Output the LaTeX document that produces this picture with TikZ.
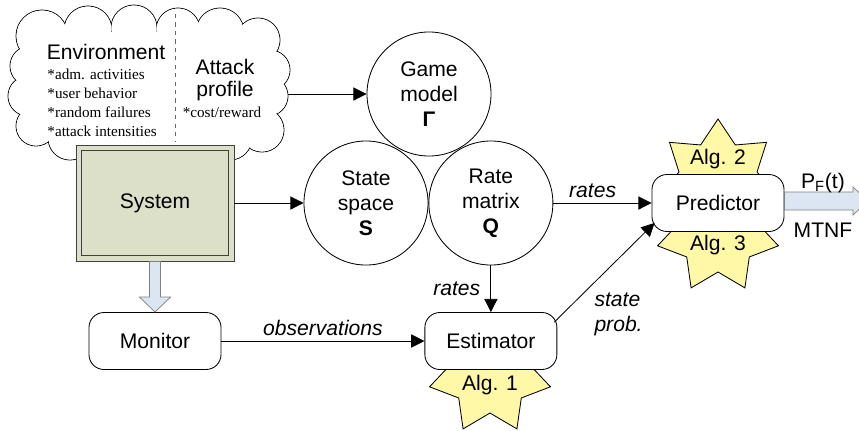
\documentclass[tikz,border=0pt]{standalone}
\usepackage{fontspec}
\setmainfont{Liberation Sans}
\newfontfamily\cloudfont{Liberation Serif}
\usetikzlibrary{arrows.meta,calc,positioning,shapes.geometric}

\definecolor{algyellow}{HTML}{FFF8A6}
\definecolor{sysgreen}{HTML}{DDE0C9}
\definecolor{flowblue}{HTML}{DCE6F2}

\newcommand\mainsize{\fontsize{15}{17.8}\selectfont}
\newcommand\attacksize{\fontsize{15}{15.5}\selectfont}
\newcommand\cloudsize{\cloudfont\fontsize{10.8}{13.5}\selectfont}
\newcommand\puffs{42/36/26, 88/30/24, 134/28/23, 178/30/22, 220/32/24, 258/40/22,
  270/70/20, 268/96/20, 262/130/22, 230/138/22, 190/138/22, 150/138/22,
  110/138/22, 70/138/22, 36/126/20, 28/96/20, 30/66/20}

\tikzset{
  model/.style={circle,draw,minimum size=3.1cm,inner sep=0pt,align=center},
  proc/.style={draw,rounded corners=0.375cm,fill=white,minimum width=3.3cm,minimum height=1.425cm},
  sysbox/.style={draw=black!75,fill=sysgreen,minimum width=3.95cm,minimum height=2.9cm},
  algstar/.style={star,star points=7,star point ratio=1.55,minimum size=3.1cm,inner sep=0pt,draw,fill=algyellow},
  blockarrow/.style={draw=black!50,fill=flowblue,line width=0.5pt},
  flowlabel/.style={font=\mainsize\itshape},
  cloudtext/.style={font=\cloudsize,align=left,inner sep=0pt}
}

\begin{document}
\begin{tikzpicture}[
                    x=0.025cm,
                    y=-0.025cm,
                    >={Triangle[length=0.33cm,width=0.33cm]},
                    line width=0.6pt,
                    font=\mainsize
                   ]
  \clip (0,0) rectangle (859,430);

  % environment cloud: stroked puffs, then white inside
  \foreach \cx/\cy/\cr in \puffs
    \draw[fill=white] (\cx,\cy) circle[radius=\cr];
  \foreach \cx/\cy/\cr in \puffs
    \fill[white] (\cx,\cy) circle[radius=\cr-0.5];
  \fill[white] (36,32) rectangle (262,134);
  \coordinate (cloudeast) at (288,94);
  \draw[dashed,black!60] (175,14) -- (175,142);
  \node (envtitle) at (106,52) {Environment};
  \node[cloudtext,anchor=north west] (envlist) at (47,69)
       {*adm. activities\\*user behavior\\*random failures\\*attack intensities};
  \node[align=center,font=\attacksize] (attack) at (225,80) {Attack\\profile};
  \node[cloudtext] (costs) at (222,112) {*cost/reward};

  % model circles
  \node[model] (game)  at (429,94)  {Game\\model\\\textbf{Γ}};
  \node[model] (state) at (366,203) {State\\space\\\textbf{S}};
  \node[model,right=0pt of state] (rate) {Rate\\matrix\\\textbf{Q}};

  % algorithm stars
  \begin{scope}
    \clip (600,100) rectangle (840,203);
    \node[algstar] (star2) at (718,181) {};
  \end{scope}
  \begin{scope}
    \clip (600,203) rectangle (840,300);
    \node[algstar] (star3) at (718,232) {};
  \end{scope}
  \begin{scope}
    \clip (400,340) rectangle (600,430);
    \node[algstar] (star1) at (490,373) {};
  \end{scope}

  % boxes
  \node[sysbox] (system) at (155,203) {System};
  \draw[draw=black!75] ([shift={(6,6)}]system.north west) rectangle ([shift={(-6,-6)}]system.south east);
  \node[proc] (monitor)   at (155,341)        {Monitor};
  \node[proc] (estimator) at (rate |- monitor) {Estimator};
  \node[proc] (predictor) at (718,203)        {Predictor};

  \node (alg2) at (718,159) {Alg. 2};
  \node (alg3) at (718,245) {Alg. 3};
  \node (alg1) at (490,385) {Alg. 1};

  % connectors
  \draw[->] (cloudeast) -- (game);
  \draw[->] (system) -- (state);
  \draw[->] (monitor) -- node[above,flowlabel] {observations} (estimator);
  \draw[->] (rate) -- node[left=4pt,flowlabel] {rates} (estimator);
  \draw[->] (rate) -- node[above,pos=0.4,flowlabel] {rates} (predictor);
  \draw[->] ($(estimator.north east)+(-3,10)$) --
            node[flowlabel,anchor=north west,pos=0.35,align=left] {state\\prob.}
            ($(predictor.south west)+(3,-9)$);

  % block arrows
  \draw[blockarrow] ($(system.south)+(-5.5,0)$) -- ($(monitor.north)+(-5.5,-15)$)
        -- ($(monitor.north)+(-15.5,-15)$) -- (monitor.north)
        -- ($(monitor.north)+(15.5,-15)$) -- ($(monitor.north)+(5.5,-15)$)
        -- ($(system.south)+(5.5,0)$) -- cycle;
  \coordinate (outtip) at (868,201);
  \draw[blockarrow] ($(predictor.east)+(0,-11)$) -- ($(outtip)+(-15,-9)$)
        -- ($(outtip)+(-15,-14)$) -- (outtip)
        -- ($(outtip)+(-15,14)$) -- ($(outtip)+(-15,9)$)
        -- ($(predictor.east)+(0,7)$) -- cycle;
  \node (pf)   at (823,183) {P\textsubscript{F}(t)};
  \node (mtnf) at (823,230) {MTNF};
\end{tikzpicture}
\end{document}
